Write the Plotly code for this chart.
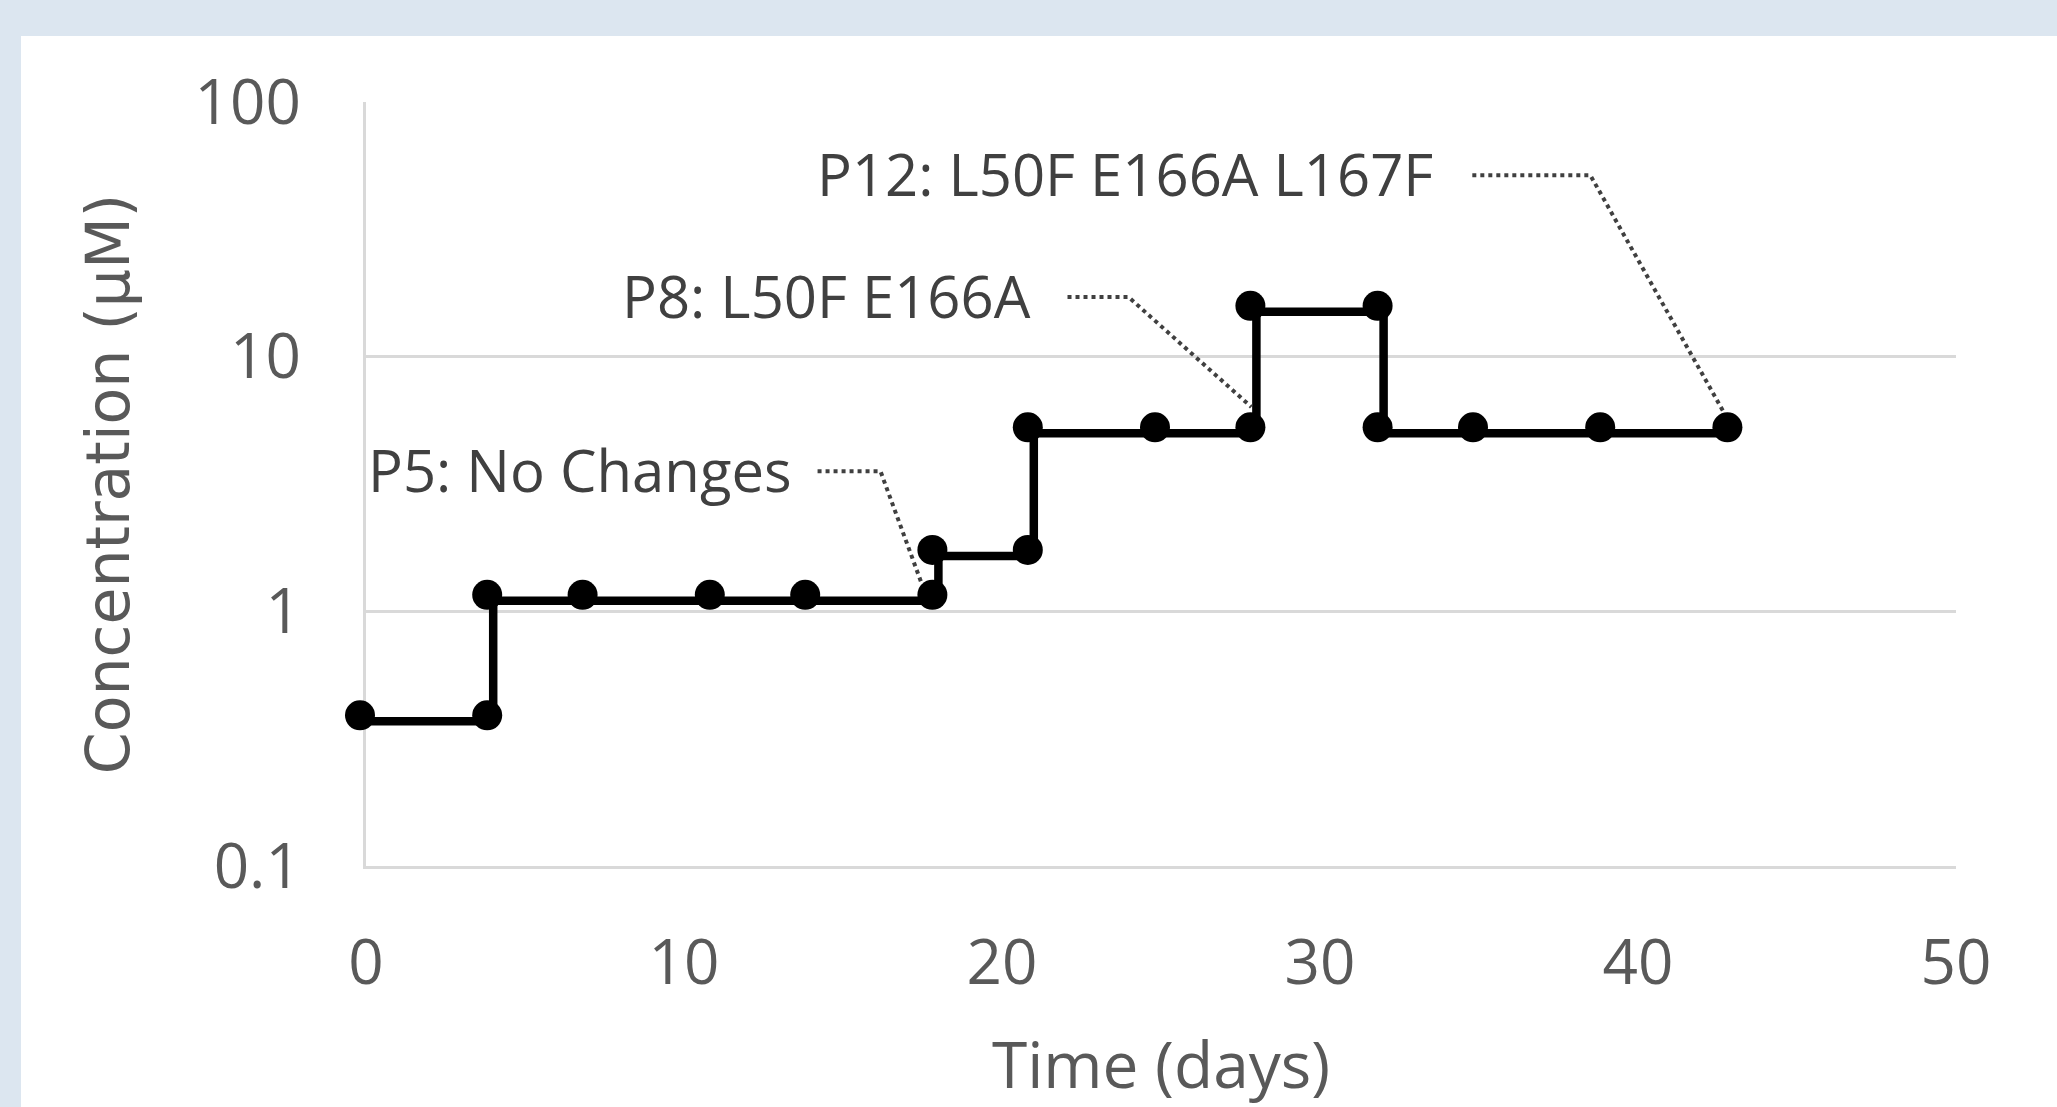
import math
import plotly.graph_objects as go

# ---------------- data ----------------
days = [0, 4, 4, 7, 11, 14, 18, 18, 21, 21, 25, 28, 28, 32, 32, 35, 39, 43]
conc = [0.37, 0.37, 1.1, 1.1, 1.1, 1.1, 1.1, 1.65, 1.65, 5, 5, 5, 15, 15, 5, 5, 5, 5]

x_ticks = [0, 10, 20, 30, 40, 50]
y_ticks = [0.1, 1, 10, 100]
y_tick_text = ["0.1", "1", "10", "100"]

labels = ["P5: No Changes", "P8: L50F E166A", "P12: L50F E166A L167F"]
label_target = [6, 11, 17]          # index of the point each label refers to

# ---------------- layout geometry (pixels) ----------------
W_TOT, H_TOT = 2057, 1107
ML, MR, MT, MB = 359, 101, 95, 240
PW = W_TOT - ML - MR
PH = H_TOT - MT - MB
AX_LEFT, AX_RIGHT = 366, 1956       # x=0 .. x=50
AX_TOP, AX_BOT = 102, 866           # y=100 .. y=0.1
MK_DX, MK_DY = -6, -6               # marker layer offset

def px_x(p):
    return min(1.0, max(0.0, (p - ML) / PW))

def px_y(p):
    return min(1.0, max(0.0, (H_TOT - MB - p) / PH))

def px_x_free(p):
    return (p - ML) / PW

def px_y_free(p):
    return (H_TOT - MB - p) / PH

main_xdom = [px_x(AX_LEFT), px_x(AX_RIGHT)]
main_ydom = [px_y(AX_BOT), px_y(AX_TOP)]
mk_xdom = [px_x(AX_LEFT + MK_DX), px_x(AX_RIGHT + MK_DX)]
mk_ydom = [px_y(AX_BOT + MK_DY), px_y(AX_TOP + MK_DY)]

GRID = "#d9d9d9"
TXT = "#595959"
LBL = "#404040"
BAND = "#dce6f0"

fig = go.Figure()

# step line
fig.add_trace(go.Scatter(
    x=days, y=conc, mode="lines",
    line=dict(color="black", width=8.5),
    xaxis="x", yaxis="y", showlegend=False, hoverinfo="skip",
))

# label placement (data coords): text right edge x, text y, leader geometry
label_pos = [
    dict(tx=13.45, ty=3.6,  sx=14.2,  cx=16.18, ey_f=1.145, ex_d=-0.5),
    dict(tx=20.96, ty=17.4, sx=22.06, cx=23.98, ey_f=1.27,  ex_d=-0.16),
    dict(tx=33.63, ty=52.4, sx=34.79, cx=38.5,  ey_f=1.19,  ex_d=-0.27),
]

annotations = []
for text, idx, p in zip(labels, label_target, label_pos):
    tx_, ty_ = days[idx], conc[idx]
    fig.add_trace(go.Scatter(
        x=[p["sx"], p["cx"], tx_ + p["ex_d"]],
        y=[p["ty"] * 0.985, p["ty"] * 0.985, ty_ * p["ey_f"]],
        mode="lines",
        line=dict(color="#404040", width=4, dash="4px,4px"),
        xaxis="x", yaxis="y", showlegend=False, hoverinfo="skip",
        cliponaxis=False,
    ))
    annotations.append(dict(
        x=p["tx"], y=math.log10(p["ty"]), xref="x", yref="y",
        text=text, showarrow=False, xanchor="right", yanchor="middle",
        font=dict(family="Open Sans", size=58, color=LBL),
    ))

# markers (on offset overlay axes)
fig.add_trace(go.Scatter(
    x=days, y=conc, mode="markers",
    marker=dict(color="black", size=30, line=dict(width=0)),
    xaxis="x2", yaxis="y2", showlegend=False, cliponaxis=False,
))

shapes = [
    dict(type="rect", xref="paper", yref="paper", layer="below",
         x0=-0.4, x1=1.3, y0=px_y_free(36), y1=px_y_free(-20),
         fillcolor=BAND, line=dict(width=0)),
    dict(type="rect", xref="paper", yref="paper", layer="below",
         x0=px_x_free(-20), x1=px_x_free(21), y0=px_y_free(1130), y1=px_y_free(-20),
         fillcolor=BAND, line=dict(width=0)),
]

fig.update_layout(
    width=W_TOT, height=H_TOT, autosize=False,
    margin=dict(l=ML, r=MR, t=MT, b=MB, pad=0, autoexpand=False),
    paper_bgcolor="white", plot_bgcolor="rgba(0,0,0,0)",
    showlegend=False,
    shapes=shapes, annotations=annotations,
    xaxis=dict(
        domain=main_xdom, range=[0, 50], tickvals=x_ticks,
        showgrid=False, zeroline=False, showline=True,
        linecolor=GRID, linewidth=2.5, ticks="", automargin=False,
        ticklabelstandoff=41,
        tickfont=dict(family="Open Sans", size=62, color=TXT),
        title=dict(text="Time (days)", standoff=57,
                   font=dict(family="Open Sans", size=64, color=TXT)),
        anchor="y",
    ),
    yaxis=dict(
        domain=main_ydom, type="log", range=[-1, 2],
        tickvals=y_ticks, ticktext=y_tick_text,
        showgrid=True, gridcolor=GRID, gridwidth=2.5,
        zeroline=False, showline=True, linecolor=GRID, linewidth=2.5,
        ticks="", ticklabelstandoff=50, automargin=False,
        tickfont=dict(family="Open Sans", size=62, color=TXT),
        title=dict(text="Concentration (µM)", standoff=46,
                   font=dict(family="DejaVu Sans", size=60, color=TXT)),
        anchor="x",
    ),
    xaxis2=dict(domain=mk_xdom, range=[0, 50], visible=False, anchor="y2",
                automargin=False),
    yaxis2=dict(domain=mk_ydom, type="log", range=[-1, 2], visible=False,
                anchor="x2", automargin=False),
)

fig.write_html(
    "out.html",
    config={"displayModeBar": False},
    post_script="document.body.style.margin='0';document.body.style.padding='0';",
)
